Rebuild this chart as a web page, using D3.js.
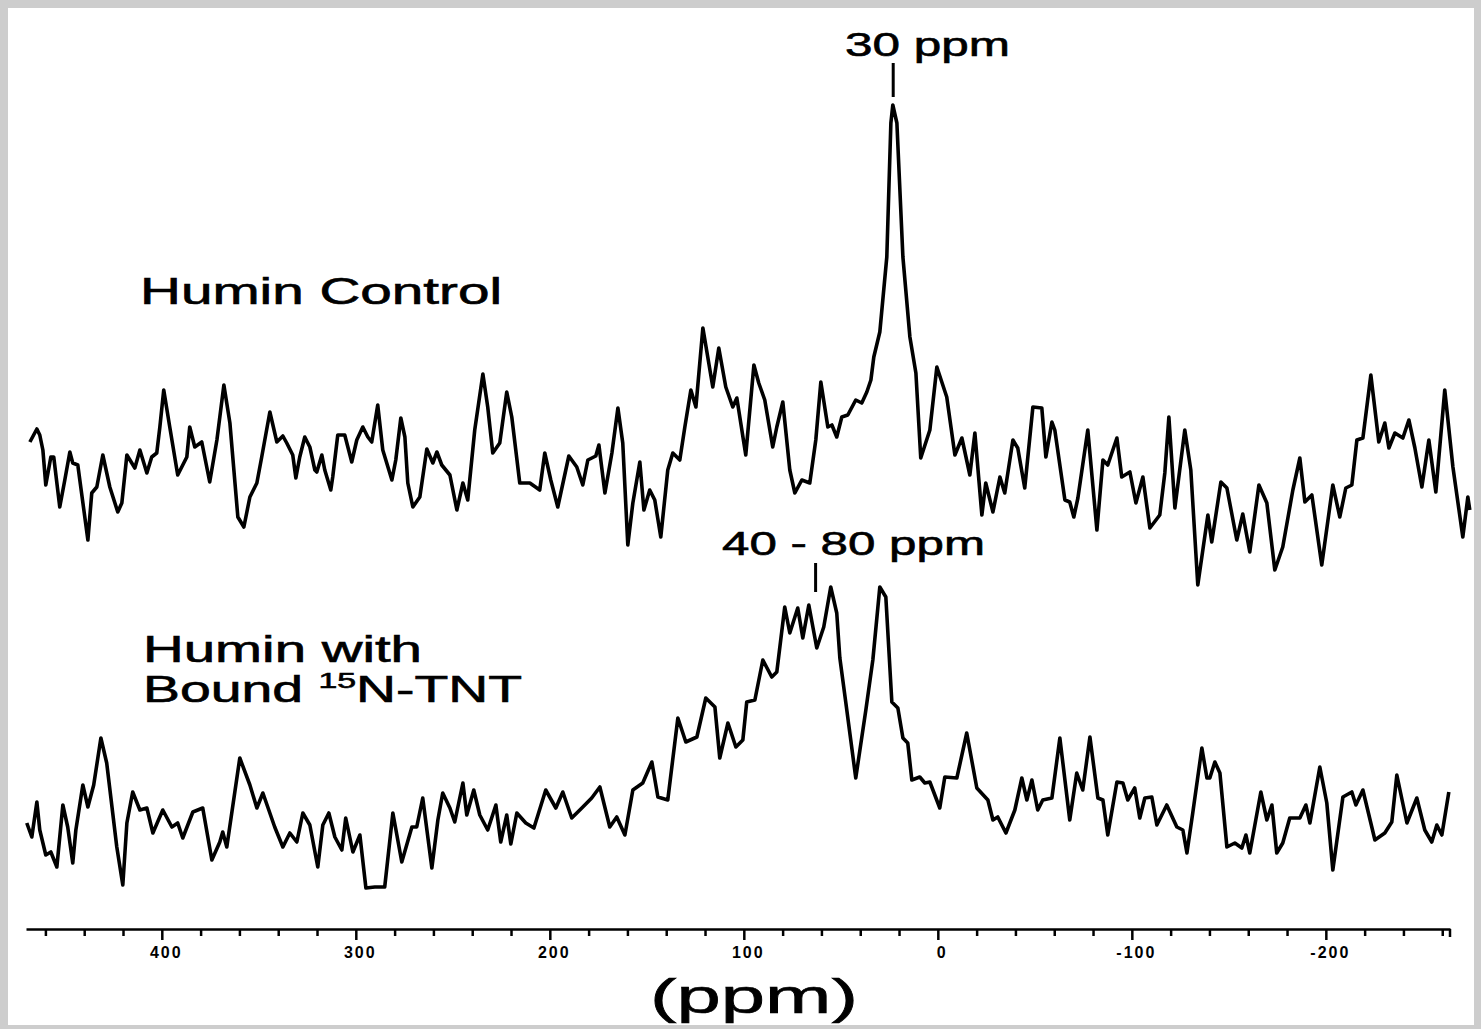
<!DOCTYPE html>
<html>
<head>
<meta charset="utf-8">
<script src="https://cdn.jsdelivr.net/npm/d3@7"></script>
<style>
  body { margin: 0; background: #fff; overflow: hidden; }
</style>
</head>
<body>
<div id="chart"></div>
<script>
// chemical shift (ppm) and intensity (arbitrary units)
const topPpm = [468.0, 464.4, 462.9, 461.3, 459.8, 457.2, 455.7, 452.6, 450.0, 447.4, 445.9, 443.3, 438.1, 436.1, 433.5, 430.4, 426.8, 422.7, 420.6, 418.0,
  413.9, 411.3, 407.7, 405.2, 402.6, 401.0, 399.0, 395.9, 391.8, 387.1, 385.6, 383.0, 379.4, 375.3, 371.6, 368.0, 364.9, 360.8, 357.7, 354.6,
  351.0, 348.5, 344.3, 340.7, 337.6, 335.6, 332.5, 330.9, 328.9, 326.3, 323.7, 321.1, 320.1, 317.5, 316.0, 312.9, 311.9, 309.3, 305.7, 302.1,
  299.5, 296.4, 293.8, 291.8, 288.7, 286.1, 281.4, 279.4, 276.8, 274.7, 273.2, 270.6, 267.0, 263.4, 260.3, 258.2, 255.7, 251.5, 247.9, 244.8,
  242.3, 238.7, 234.5, 232.0, 229.4, 225.8, 222.2, 219.6, 215.5, 210.3, 205.2, 202.6, 199.5, 195.9, 190.2, 186.1, 183.0, 180.4, 176.3, 174.7,
  171.6, 168.0, 164.9, 162.4, 159.8, 157.2, 153.6, 151.5, 148.5, 145.9, 142.8, 139.2, 136.6, 133.0, 130.4, 127.3, 124.7, 121.1, 116.0, 112.9,
  109.3, 105.7, 103.6, 99.0, 94.8, 92.3, 89.2, 85.1, 83.0, 79.9, 76.3, 73.7, 70.1, 66.0, 62.9, 60.3, 56.7, 54.6, 52.1, 49.5,
  46.4, 42.3, 39.2, 36.6, 34.5, 33.0, 29.9, 26.3, 24.2, 23.2, 21.1, 18.0, 14.4, 11.3, 8.8, 4.1, 0.5, -4.6, -8.8, -12.4,
  -16.5, -19.1, -22.7, -24.7, -28.4, -32.0, -34.5, -38.7, -41.2, -44.8, -49.0, -53.6, -55.7, -58.8, -60.3, -65.5, -68.0, -70.1, -72.2, -77.3,
  -82.0, -85.1, -87.6, -92.3, -94.8, -99.0, -102.1, -105.7, -109.3, -114.4, -117.0, -119.1, -122.2, -127.3, -130.4, -134.0, -136.6, -139.2, -141.2, -145.9,
  -149.0, -154.1, -157.2, -160.8, -165.5, -169.6, -173.7, -177.8, -183.0, -186.6, -189.2, -192.8, -197.9, -203.6, -207.2, -210.3, -213.4, -216.0, -219.1, -223.2,
  -227.3, -230.4, -232.5, -235.6, -239.7, -242.8, -245.9, -249.5, -253.1, -256.7, -261.3, -265.5, -270.6, -273.2, -274.2];
const topInt = [158, 171, 165, 150, 115, 143, 143, 93, 120, 148, 137, 135, 60, 107, 113, 145, 113, 88, 97, 145,
  132, 150, 127, 143, 147, 173, 210, 173, 125, 143, 173, 153, 158, 118, 160, 215, 177, 83, 73, 103,
  117, 143, 188, 158, 164, 157, 145, 122, 143, 163, 153, 130, 128, 145, 130, 110, 123, 165, 165, 138,
  160, 173, 163, 158, 195, 150, 120, 140, 182, 163, 117, 93, 103, 151, 137, 148, 135, 125, 90, 117,
  100, 170, 226, 193, 147, 157, 208, 183, 117, 117, 110, 147, 120, 93, 144, 133, 115, 140, 144, 155,
  107, 147, 192, 157, 55, 97, 138, 90, 110, 100, 63, 130, 147, 140, 173, 210, 193, 272, 213, 252,
  213, 193, 202, 145, 235, 217, 200, 153, 173, 198, 130, 107, 120, 117, 160, 218, 173, 175, 163, 183,
  185, 200, 197, 208, 220, 243, 268, 343, 477, 495, 477, 343, 263, 227, 142, 170, 233, 203, 145, 162,
  125, 167, 85, 117, 88, 123, 107, 160, 152, 112, 193, 192, 143, 178, 170, 100, 98, 83, 102, 170,
  70, 140, 135, 162, 123, 128, 97, 123, 72, 85, 127, 183, 92, 170, 130, 15, 50, 85, 58, 118,
  112, 60, 86, 48, 115, 97, 30, 53, 110, 142, 98, 105, 35, 115, 83, 112, 115, 160, 162, 225,
  158, 177, 152, 167, 162, 180, 152, 113, 160, 108, 210, 133, 63, 103, 90];

const botPpm = [469.6, 467.0, 464.4, 462.9, 459.8, 457.2, 454.1, 451.0, 448.5, 445.9, 444.3, 440.7, 438.1, 435.1, 431.4, 428.4, 423.2, 420.1, 418.0, 415.0,
  411.3, 407.7, 404.6, 399.5, 394.8, 391.8, 389.2, 384.0, 378.9, 374.2, 370.1, 368.6, 366.5, 359.8, 354.6, 351.0, 347.9, 341.8, 337.6, 334.0,
  330.4, 327.3, 323.7, 319.6, 317.0, 313.9, 310.8, 307.2, 305.2, 301.5, 297.9, 294.8, 290.2, 285.1, 280.9, 276.3, 271.1, 268.6, 265.5, 260.8,
  257.7, 255.2, 251.5, 249.0, 244.8, 242.8, 239.2, 236.1, 232.0, 227.8, 225.3, 222.2, 220.1, 217.0, 212.4, 208.2, 202.1, 196.9, 193.3, 188.7,
  183.5, 178.4, 174.2, 169.1, 165.5, 161.3, 157.2, 152.1, 147.4, 144.3, 139.2, 134.0, 129.9, 124.2, 119.6, 114.9, 112.4, 108.2, 104.1, 100.5,
  98.5, 94.3, 90.2, 85.6, 83.0, 78.9, 76.3, 72.2, 69.6, 66.5, 62.4, 58.8, 55.2, 52.1, 50.5, 47.4, 42.3, 37.1, 33.5, 29.9,
  26.8, 23.7, 20.6, 18.0, 15.5, 13.4, 9.3, 6.7, 4.1, -1.0, -3.6, -9.8, -14.9, -20.1, -25.8, -28.4, -30.9, -35.1, -39.7, -43.3,
  -45.9, -48.5, -51.5, -54.1, -58.8, -62.9, -68.0, -71.6, -74.7, -78.4, -82.5, -85.1, -87.6, -92.3, -95.4, -97.9, -101.5, -104.1, -106.7, -110.3,
  -112.9, -118.0, -123.2, -126.3, -128.4, -131.4, -136.1, -138.7, -140.2, -142.8, -145.4, -149.0, -153.1, -156.7, -158.8, -160.8, -166.5, -169.6, -172.2, -174.7,
  -177.8, -181.4, -186.6, -189.7, -191.8, -196.9, -200.5, -203.6, -208.8, -213.4, -215.5, -219.1, -225.3, -230.4, -234.0, -236.6, -241.8, -246.9, -251.0, -254.6,
  -257.2, -259.8, -263.4];
const botInt = [77, 63, 98, 70, 45, 48, 33, 95, 73, 37, 70, 115, 93, 115, 162, 137, 53, 15, 77, 108,
  90, 92, 67, 90, 73, 77, 62, 88, 92, 40, 58, 68, 53, 142, 115, 92, 107, 73, 53, 67,
  58, 87, 75, 33, 75, 87, 63, 50, 82, 48, 65, 12, 13, 13, 87, 38, 73, 73, 102, 32,
  80, 107, 92, 78, 117, 85, 110, 85, 70, 95, 58, 85, 56, 87, 77, 72, 110, 92, 108, 82,
  92, 102, 113, 73, 83, 65, 110, 117, 138, 103, 100, 182, 158, 163, 202, 193, 142, 177, 153, 160,
  198, 200, 240, 223, 228, 293, 267, 292, 262, 295, 252, 273, 313, 287, 242, 197, 122, 190, 240, 313,
  303, 198, 192, 162, 157, 120, 123, 117, 118, 92, 123, 122, 167, 112, 100, 80, 83, 67, 90, 122,
  100, 120, 90, 100, 102, 162, 80, 127, 110, 163, 102, 100, 65, 118, 117, 100, 112, 82, 102, 103,
  75, 95, 73, 70, 47, 87, 152, 122, 122, 138, 127, 53, 57, 52, 65, 47, 108, 80, 95, 47,
  57, 82, 82, 95, 77, 133, 97, 30, 103, 108, 95, 110, 60, 67, 78, 125, 77, 102, 70, 58,
  75, 65, 108];

const majorTicks = [400, 300, 200, 100, 0, -100, -200];
const minorTicks = d3.range(460, -261, -20).filter(v => !majorTicks.includes(v));

const width = 1481;
const height = 1029;
const font = "'Liberation Sans', Arial, Helvetica, sans-serif";

const svg = d3.select("#chart")
  .append("svg")
  .attr("width", width)
  .attr("height", height);

// scanned page: grey rim round a white sheet
svg.append("rect").attr("width", width).attr("height", height).attr("fill", "#cdcdcd");
svg.append("rect")
  .attr("x", 8).attr("y", 8)
  .attr("width", width - 15).attr("height", height - 12)
  .attr("fill", "#fff");

const x = d3.scaleLinear().domain([470, -264]).range([26, 1450]);
const yTop = d3.scaleLinear().domain([0, 500]).range([600, 100]);
const yBot = d3.scaleLinear().domain([0, 500]).range([900, 400]);

function drawTrace(ppm, intensity, y) {
  const pts = d3.zip(ppm, intensity);
  svg.append("path")
    .datum(pts)
    .attr("fill", "none")
    .attr("stroke", "#000")
    .attr("stroke-width", 3.6)
    .attr("stroke-linejoin", "round")
    .attr("d", d3.line().x(d => x(d[0])).y(d => y(d[1])));
}

drawTrace(topPpm, topInt, yTop);
drawTrace(botPpm, botInt, yBot);

// axis
const axisY = 929;
const minorAxis = svg.append("g")
  .attr("transform", `translate(0,${axisY})`)
  .call(d3.axisBottom(x).tickValues(minorTicks).tickSize(7).tickFormat("").tickSizeOuter(0));
minorAxis.select(".domain").attr("stroke", "#000").attr("stroke-width", 2.5);
minorAxis.selectAll(".tick line").attr("stroke", "#000").attr("stroke-width", 2.5);

const majorAxis = svg.append("g")
  .attr("transform", `translate(0,${axisY})`)
  .call(d3.axisBottom(x).tickValues(majorTicks).tickSize(11).tickPadding(7)
    .tickFormat(d => String(d)).tickSizeOuter(0));
majorAxis.select(".domain").remove();
majorAxis.selectAll(".tick line").attr("stroke", "#000").attr("stroke-width", 2.5);
majorAxis.selectAll(".tick text")
  .attr("fill", "#000")
  .attr("dx", 4)
  .style("font-family", font)
  .style("font-size", "16px")
  .style("font-weight", "bold")
  .style("letter-spacing", "2px");

// end tick at the right edge of the axis
svg.append("line")
  .attr("x1", x(-264)).attr("x2", x(-264))
  .attr("y1", axisY).attr("y2", axisY + 8)
  .attr("stroke", "#000").attr("stroke-width", 2.5);

svg.append("text")
  .attr("x", 754)
  .attr("y", 1013)
  .attr("text-anchor", "middle")
  .attr("textLength", 208)
  .attr("lengthAdjust", "spacingAndGlyphs")
  .attr("stroke", "#000")
  .attr("stroke-width", 0.6)
  .style("font-family", font)
  .style("font-size", "48px")
  .text("(ppm)");

// peak labels and markers
function label(txt, xPos, yPos, size, len) {
  return svg.append("text")
    .attr("x", xPos)
    .attr("y", yPos)
    .attr("textLength", len)
    .attr("lengthAdjust", "spacingAndGlyphs")
    .attr("stroke", "#000")
    .attr("stroke-width", 0.6)
    .style("font-family", font)
    .style("font-size", size + "px")
    .text(txt);
}

label("30 ppm", 845, 56, 33, 165);
svg.append("line")
  .attr("x1", x(23)).attr("x2", x(23))
  .attr("y1", 63).attr("y2", 97)
  .attr("stroke", "#000").attr("stroke-width", 3);

label("40 - 80 ppm", 722, 555, 33, 263);
svg.append("line")
  .attr("x1", x(63)).attr("x2", x(63))
  .attr("y1", 563).attr("y2", 592)
  .attr("stroke", "#000").attr("stroke-width", 3);

label("Humin Control", 140, 304, 36, 362);
label("Humin with", 143, 662, 36, 279);

const bound = svg.append("text")
  .attr("x", 143)
  .attr("y", 702)
  .attr("textLength", 379)
  .attr("lengthAdjust", "spacingAndGlyphs")
  .attr("stroke", "#000")
  .attr("stroke-width", 0.6)
  .style("font-family", font)
  .style("font-size", "36px");
bound.append("tspan").text("Bound ");
bound.append("tspan").attr("dy", -14).style("font-size", "22px").text("15");
bound.append("tspan").attr("dy", 14).text("N-TNT");
</script>
</body>
</html>
